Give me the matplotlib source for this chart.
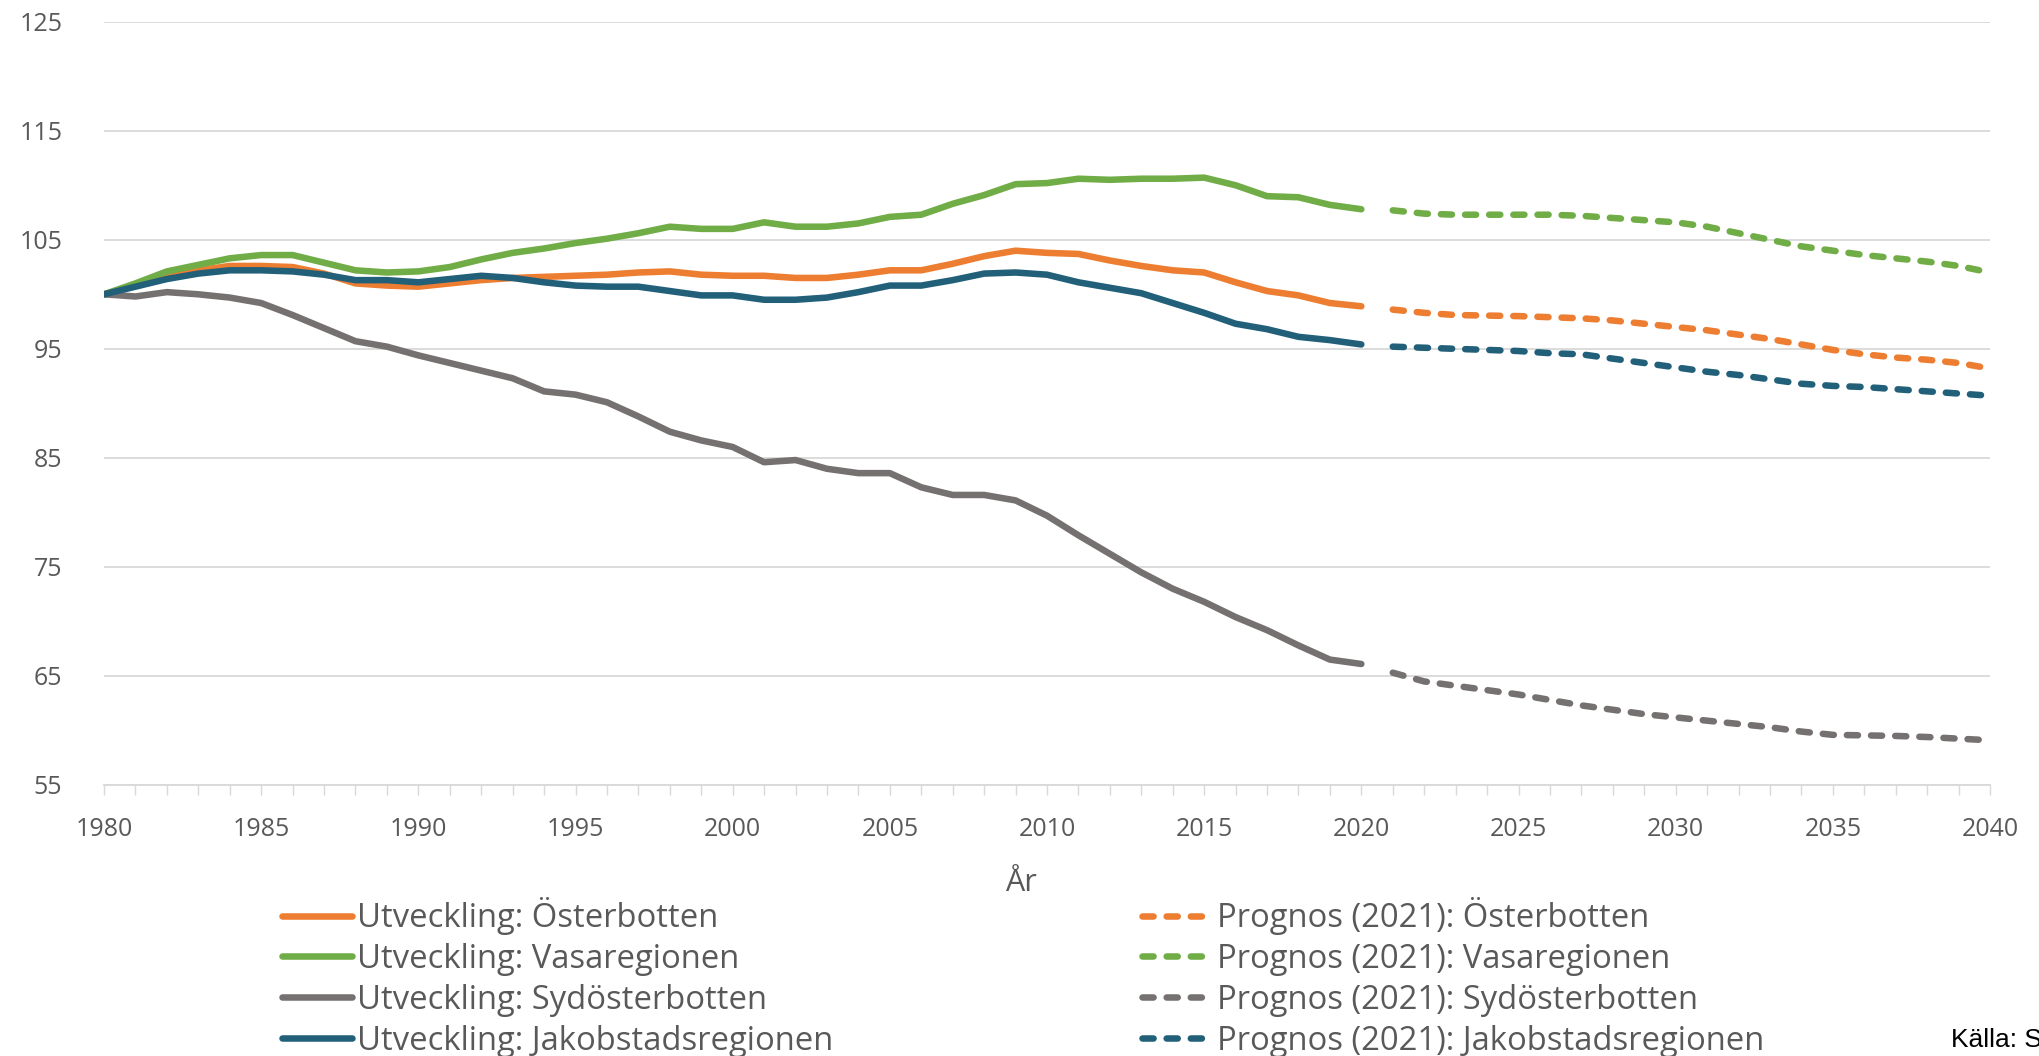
import numpy as np
import matplotlib
matplotlib.use("Agg")
import matplotlib.pyplot as plt
from matplotlib.ticker import MultipleLocator

plt.rcParams['font.family'] = ['Open Sans', 'DejaVu Sans']

years_obs = list(range(1980, 2021))
years_fc = list(range(2021, 2041))

# utveckling (index 1980 = 100)
osterbotten = [100.0, 100.8, 101.6, 102.2, 102.6, 102.6, 102.5, 101.9, 101.0, 100.8,
               100.7, 101.0, 101.3, 101.5, 101.6, 101.7, 101.8, 102.0, 102.1, 101.8,
               101.7, 101.7, 101.5, 101.5, 101.8, 102.2, 102.2, 102.8, 103.5, 104.0,
               103.8, 103.7, 103.1, 102.6, 102.2, 102.0, 101.1, 100.3, 99.9, 99.2, 98.9]
vasaregionen = [100.0, 101.0, 102.1, 102.7, 103.3, 103.6, 103.6, 102.9, 102.2, 102.0,
                102.1, 102.5, 103.2, 103.8, 104.2, 104.7, 105.1, 105.6, 106.2, 106.0,
                106.0, 106.6, 106.2, 106.2, 106.5, 107.1, 107.3, 108.3, 109.1, 110.1,
                110.2, 110.6, 110.5, 110.6, 110.6, 110.7, 110.0, 109.0, 108.9, 108.2, 107.8]
sydosterbotten = [100.0, 99.8, 100.2, 100.0, 99.7, 99.2, 98.1, 96.9, 95.7, 95.2,
                  94.4, 93.7, 93.0, 92.3, 91.1, 90.8, 90.1, 88.8, 87.4, 86.6,
                  86.0, 84.6, 84.8, 84.0, 83.6, 83.6, 82.3, 81.6, 81.6, 81.1,
                  79.7, 77.9, 76.2, 74.5, 73.0, 71.8, 70.4, 69.2, 67.8, 66.5, 66.1]
jakobstad = [100.0, 100.7, 101.4, 101.9, 102.2, 102.2, 102.1, 101.8, 101.3, 101.3,
             101.1, 101.4, 101.7, 101.5, 101.1, 100.8, 100.7, 100.7, 100.3, 99.9,
             99.9, 99.5, 99.5, 99.7, 100.2, 100.8, 100.8, 101.3, 101.9, 102.0,
             101.8, 101.1, 100.6, 100.1, 99.2, 98.3, 97.3, 96.8, 96.1, 95.8, 95.4]

# prognos (2021)
osterbotten_fc = [98.6, 98.3, 98.1, 98.05, 98.0, 97.9, 97.8, 97.6, 97.3, 97.0,
                  96.7, 96.3, 95.9, 95.4, 94.9, 94.5, 94.2, 94.0, 93.7, 93.2]
vasaregionen_fc = [107.7, 107.4, 107.3, 107.3, 107.3, 107.3, 107.2, 107.0, 106.8, 106.6,
                   106.2, 105.6, 105.0, 104.4, 104.0, 103.6, 103.3, 103.0, 102.6, 102.0]
sydosterbotten_fc = [65.3, 64.5, 64.1, 63.7, 63.3, 62.8, 62.3, 61.9, 61.5, 61.2,
                     60.9, 60.6, 60.3, 59.9, 59.6, 59.55, 59.5, 59.4, 59.25, 59.1]
jakobstad_fc = [95.2, 95.1, 95.0, 94.9, 94.8, 94.6, 94.5, 94.1, 93.7, 93.3,
                92.9, 92.6, 92.2, 91.8, 91.6, 91.5, 91.3, 91.1, 90.9, 90.7]

regions = ['Österbotten', 'Vasaregionen', 'Sydösterbotten', 'Jakobstadsregionen']
colors = ['#ED7D31', '#70AD47', '#767171', '#22607A']
obs = [osterbotten, vasaregionen, sydosterbotten, jakobstad]
fc = [osterbotten_fc, vasaregionen_fc, sydosterbotten_fc, jakobstad_fc]

fig = plt.figure(figsize=(20.4, 10.56), dpi=100)
ax = fig.add_axes([104/2040, 1-785/1056, (1990-104)/2040, (785-21.7)/1056])

lw = 4.7
h_obs, h_fc = [], []
for name, c, o, f in zip(regions, colors, obs, fc):
    l1, = ax.plot(years_obs, o, color=c, lw=lw, solid_capstyle='round',
                  solid_joinstyle='round', label='Utveckling: ' + name)
    l2, = ax.plot(years_fc, f, color=c, lw=lw, linestyle=(0, (1.7, 2.0)),
                  dash_capstyle='round', label='Prognos (2021): ' + name)
    h_obs.append(l1)
    h_fc.append(l2)

ax.set_xlim(1980, 2040)
ax.set_ylim(55, 125)
ax.set_yticks(np.arange(55, 126, 10))
ax.xaxis.set_major_locator(MultipleLocator(5))
ax.xaxis.set_minor_locator(MultipleLocator(1))
ax.grid(axis='y', color='#D9D9D9', lw=1.3)
ax.set_axisbelow(True)
for s in ['top', 'right', 'left']:
    ax.spines[s].set_visible(False)
ax.spines['bottom'].set_color('#D9D9D9')
ax.spines['bottom'].set_linewidth(1.3)
ax.tick_params(axis='y', length=0, pad=30, labelsize=18, labelcolor='#595959')
ax.tick_params(axis='x', which='both', length=7, width=1, color='#D9D9D9',
               pad=16, labelsize=18, labelcolor='#595959')

fig.text(1021/2040, 1-883/1056, 'År', ha='center', va='center', fontsize=22, color='#595959')

leg_kw = dict(frameon=False, fontsize=23.6, handlelength=2.15, handletextpad=0.14,
              labelspacing=0.24, borderpad=0, borderaxespad=0, labelcolor='#595959')
leg1 = fig.legend(handles=h_obs, loc='upper left',
                  bbox_to_anchor=(282/2040, 1-897/1056), **leg_kw)
leg2 = fig.legend(handles=h_fc, loc='upper left',
                  bbox_to_anchor=(1142/2040, 1-897/1056), **leg_kw)

fig.text(1951/2040, 1-1040/1056, 'Källa: Statistikcentralen', ha='left', va='center',
         fontsize=19, color='black', family=['Liberation Sans', 'DejaVu Sans'])

plt.savefig('out.png', dpi=100)
